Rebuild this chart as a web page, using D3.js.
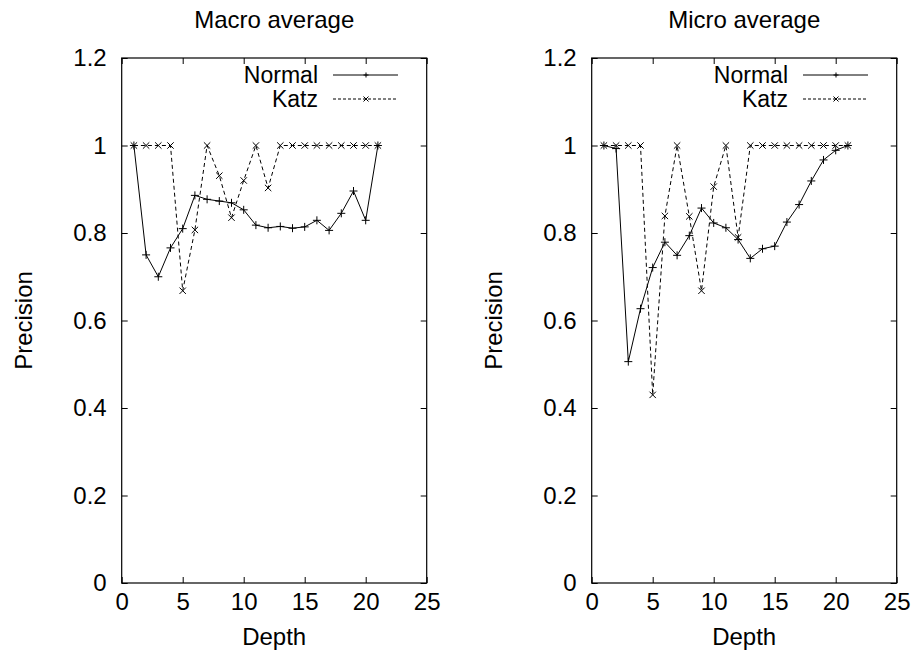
<!DOCTYPE html>
<html>
<head>
<meta charset="utf-8">
<script src="https://cdn.jsdelivr.net/npm/d3@7"></script>
<style>
  body { margin: 0; background: #fff; }
  svg text { font-family: "Liberation Sans", Arial, Helvetica, sans-serif; fill: #000; }
</style>
</head>
<body>
<svg id="chart" width="916" height="658"></svg>
<script>
// depth values 1..21
const depth = [1,2,3,4,5,6,7,8,9,10,11,12,13,14,15,16,17,18,19,20,21];

// macro average
const macroNormal = [1.0,0.75,0.70,0.766,0.81,0.886,0.877,0.873,0.869,0.853,0.818,0.812,0.815,0.811,0.814,0.829,0.806,0.845,0.896,0.829,1.0];
const macroKatz   = [1,1,1,1,0.668,0.807,1,0.931,0.835,0.92,1,0.903,1,1,1,1,1,1,1,1,1];

// micro average
const microNormal = [1.0,0.993,0.506,0.627,0.721,0.779,0.749,0.794,0.857,0.823,0.812,0.785,0.742,0.764,0.77,0.825,0.865,0.919,0.967,0.989,1.0];
const microKatz   = [1,1,1,1,0.43,0.839,1,0.838,0.668,0.906,1,0.79,1,1,1,1,1,1,1,1,1];

const xTicks = [0,5,10,15,20,25];
const yTicks = [0,0.2,0.4,0.6,0.8,1,1.2];
const titles = ["Macro average", "Micro average"];
const seriesNames = ["Normal", "Katz"];

const svg = d3.select("#chart");
const W = 305, H = 525;
const panels = [
  {left: 121.7, top: 58, title: titles[0], normal: macroNormal, katz: macroKatz},
  {left: 591.7, top: 58, title: titles[1], normal: microNormal, katz: microKatz}
];

const x = d3.scaleLinear().domain([0,25]).range([0,W]);
const y = d3.scaleLinear().domain([0,1.2]).range([H,0]);
const fmt = d => d === 0 ? "0" : (d % 1 === 0 ? String(d) : d.toFixed(1));

function plus(g, cx, cy, s) {
  g.append("path").attr("d", `M${cx-s},${cy}H${cx+s}M${cx},${cy-s}V${cy+s}`)
    .attr("stroke","#000").attr("stroke-width",1).attr("fill","none");
}
function cross(g, cx, cy, s) {
  g.append("path").attr("d", `M${cx-s},${cy-s}L${cx+s},${cy+s}M${cx-s},${cy+s}L${cx+s},${cy-s}`)
    .attr("stroke","#000").attr("stroke-width",1).attr("fill","none");
}

panels.forEach(p => {
  const g = svg.append("g").attr("transform", `translate(${p.left},${p.top})`);

  // ticks, inward, mirrored on all four sides
  const axes = [
    {ax: d3.axisBottom(x), tr: `translate(0,${H})`, labels: true},
    {ax: d3.axisTop(x), tr: "translate(0,0)", labels: false},
    {ax: d3.axisLeft(y), tr: "translate(0,0)", labels: true},
    {ax: d3.axisRight(y), tr: `translate(${W},0)`, labels: false}
  ];
  axes.forEach((a, i) => {
    const isX = i < 2;
    a.ax.tickValues(isX ? xTicks : yTicks).tickSizeInner(-6).tickSizeOuter(0)
      .tickFormat(fmt).tickPadding(isX ? 10 : 15);
    const ag = g.append("g").attr("transform", a.tr).call(a.ax);
    ag.select(".domain").remove();
    ag.selectAll(".tick line").attr("stroke","#000");
    if (!a.labels) ag.selectAll(".tick text").remove();
    else ag.selectAll(".tick text").style("font-size","24px").style("font-family",null);
  });

  g.append("rect").attr("width", W).attr("height", H)
    .attr("fill","none").attr("stroke","#000").attr("stroke-width",1.2);

  const line = d3.line().x((d,i) => x(depth[i])).y(d => y(d));

  g.append("path").datum(p.normal).attr("d", line)
    .attr("fill","none").attr("stroke","#000").attr("stroke-width",1);
  g.append("path").datum(p.katz).attr("d", line)
    .attr("fill","none").attr("stroke","#000").attr("stroke-width",1).attr("stroke-dasharray","4,3");

  p.normal.forEach((v,i) => plus(g, x(depth[i]), y(v), 4));
  p.katz.forEach((v,i) => cross(g, x(depth[i]), y(v), 3.2));

  // title and axis labels
  g.append("text").attr("x", W/2).attr("y", 28 - p.top).attr("text-anchor","middle")
    .style("font-size","24px").text(p.title);
  g.append("text").attr("x", W/2).attr("y", 645 - p.top).attr("text-anchor","middle")
    .style("font-size","24px").text("Depth");
  g.append("text").attr("transform", `translate(${31.5 - 121.7},${H/2}) rotate(-90)`)
    .attr("text-anchor","middle").style("font-size","24px").text("Precision");

  // legend
  const lg = g.append("g");
  seriesNames.forEach((name, k) => {
    const ly = 75 - p.top + k*24;
    lg.append("text").attr("x", 318 - 121.7).attr("y", ly).attr("dy","0.35em")
      .attr("text-anchor","end").style("font-size","23px").text(name);
    lg.append("line").attr("x1", 333 - 121.7).attr("x2", 398 - 121.7).attr("y1", ly).attr("y2", ly)
      .attr("stroke","#000").attr("stroke-width",1).attr("stroke-dasharray", k ? "3,2" : null);
    if (k === 0) plus(lg, 366 - 121.7, ly, 2.5); else cross(lg, 366 - 121.7, ly, 2.5);
  });
});
</script>
</body>
</html>
